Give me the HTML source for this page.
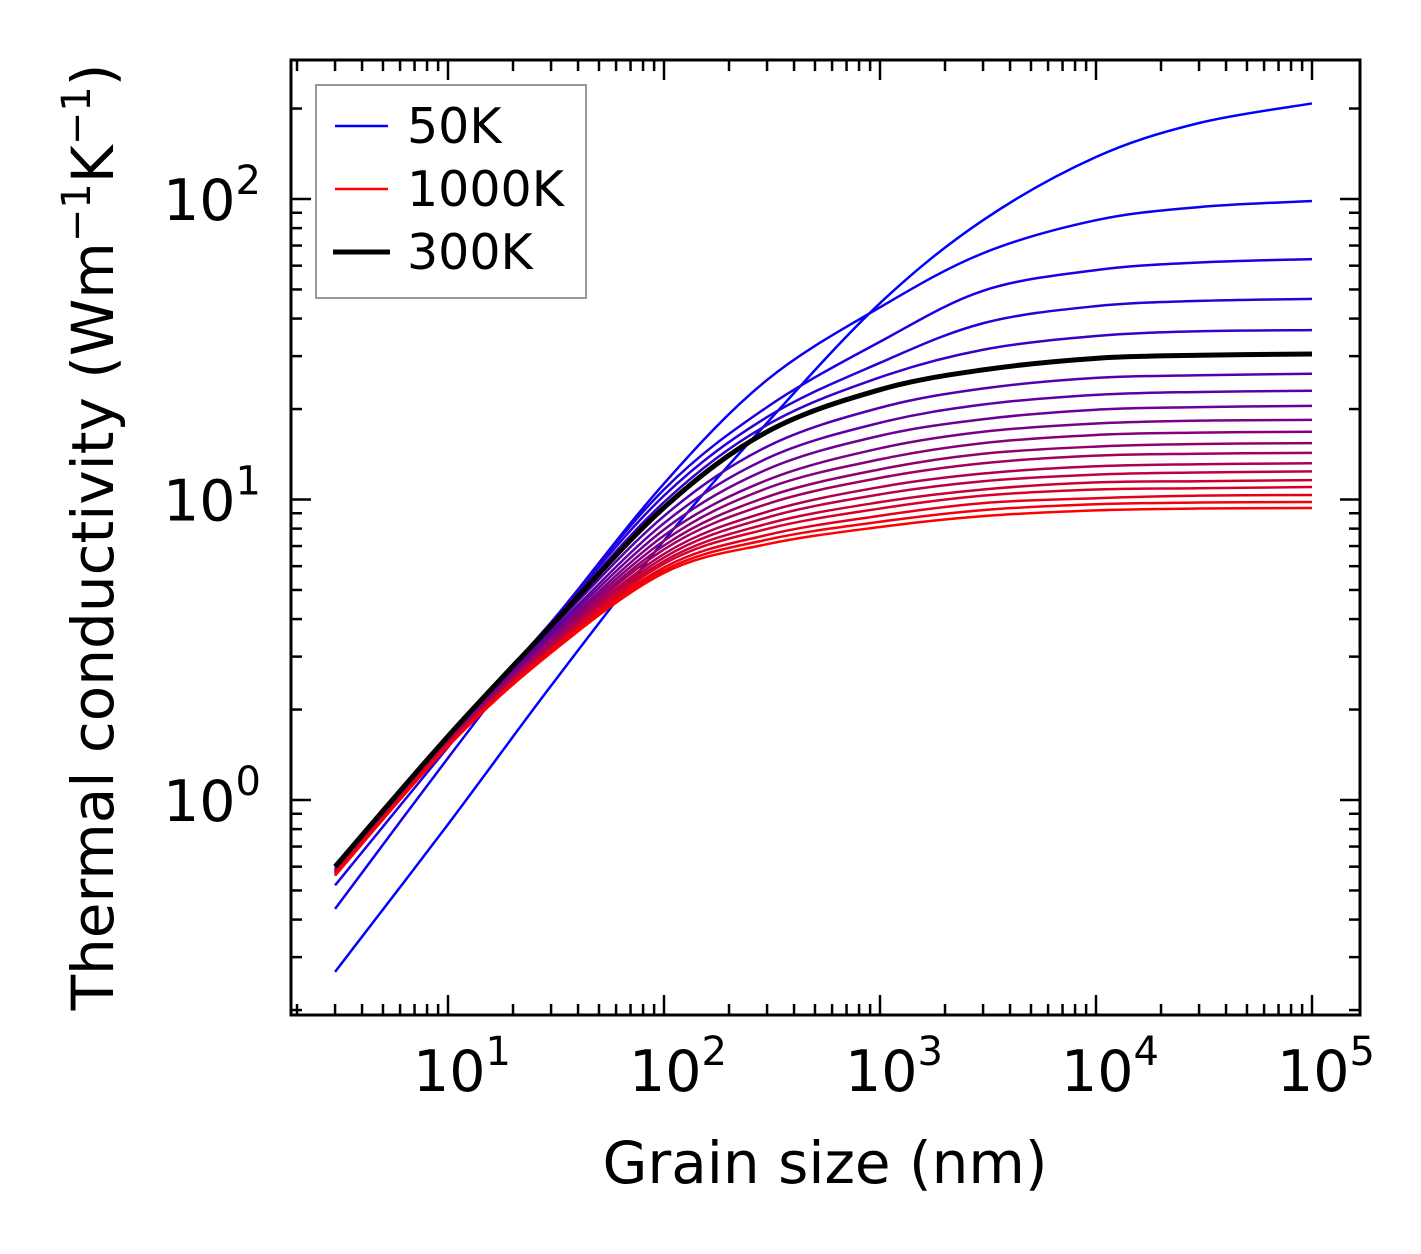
<!DOCTYPE html>
<html><head><meta charset="utf-8"><style>
html,body{margin:0;padding:0;background:#fff;}
svg{display:block;font-family:"DejaVu Sans","Liberation Sans",sans-serif;}
</style></head><body>
<svg id="chart" width="1421" height="1254" viewBox="0 0 1421 1254" xmlns="http://www.w3.org/2000/svg">
<rect x="0" y="0" width="1421" height="1254" fill="#fff"/>
<g id="curves"></g>
<g id="ticks"></g>
<rect x="291" y="60" width="1069" height="955" fill="none" stroke="#000" stroke-width="3"/>
<g id="labels"></g>
<text x="825" y="1183" font-size="58" text-anchor="middle">Grain size (nm)</text>
<text transform="translate(113,537) rotate(-90)" font-size="58" text-anchor="middle">Thermal conductivity (Wm<tspan dy="-23" font-size="40">−1</tspan><tspan dy="23">K</tspan><tspan dy="-23" font-size="40">−1</tspan><tspan dy="23">)</tspan></text>
<g>
<rect x="316" y="85" width="270" height="213" fill="#fff" stroke="#999" stroke-width="2"/>
<line x1="335" y1="126" x2="388" y2="126" stroke="#0000ff" stroke-width="2.4"/>
<text x="407" y="143" font-size="49">50K</text>
<line x1="335" y1="189" x2="388" y2="189" stroke="#ff0000" stroke-width="2.4"/>
<text x="407" y="206" font-size="49">1000K</text>
<line x1="333" y1="252" x2="390" y2="252" stroke="#000" stroke-width="5"/>
<text x="407" y="269" font-size="49">300K</text>
</g>
</svg>
<script>
const grainSizes = [3, 10, 30, 100, 300, 1000, 3000, 10000, 30000, 100000];
const temperatures = [50,100,150,200,250,300,350,400,450,500,550,600,650,700,750,800,850,900,950,1000];
const k50  = [0.268,0.83,2.4,7.3,18.0,45,85,138,179,208];
const k100 = [0.434,1.38,3.85,11.3,25,43.6,66,85,94,98.5];
const k150 = [0.52,1.5,3.9,10.8,20.3,33.5,49.5,58,61.5,63.1];
const k200 = [0.575,1.58,3.9,10.3,18.8,28.5,38.6,44,45.8,46.5];
const k250 = [0.585,1.6,3.85,9.8,17.7,25.5,31.5,35,36.3,36.6];
const k300 = [0.60,1.63,3.8,9.4,16.8,23.2,27.0,29.5,30.2,30.5];
const k350 = [0.594,1.61,3.70,8.81,15.0,20.2,23.4,25.4,25.9,26.2];
const k400 = [0.590,1.60,3.61,8.34,13.7,18.0,20.7,22.3,22.8,23.0];
const k450 = [0.586,1.59,3.55,7.94,12.6,16.3,18.5,19.9,20.3,20.5];
const k500 = [0.582,1.58,3.48,7.59,11.6,14.8,16.8,17.9,18.3,18.4];
const k550 = [0.579,1.57,3.43,7.29,10.9,13.6,15.4,16.4,16.7,16.8];
const k600 = [0.577,1.56,3.37,7.03,10.2,12.6,14.2,15.0,15.3,15.4];
const k650 = [0.574,1.55,3.33,6.82,9.66,11.8,13.2,14.0,14.2,14.3];
const k700 = [0.571,1.55,3.28,6.59,9.10,11.0,12.2,12.9,13.1,13.2];
const k750 = [0.569,1.54,3.24,6.41,8.71,10.4,11.5,12.1,12.3,12.4];
const k800 = [0.566,1.53,3.21,6.24,8.30,9.80,10.8,11.4,11.5,11.6];
const k850 = [0.565,1.52,3.18,6.11,7.98,9.33,10.3,10.8,10.9,11.0];
const k900 = [0.564,1.52,3.15,5.94,7.62,8.83,9.73,10.1,10.3,10.35];
const k950 = [0.561,1.51,3.12,5.81,7.35,8.43,9.22,9.64,9.77,9.81];
const k1000= [0.56,1.51,3.09,5.7,7.1,8.1,8.8,9.2,9.33,9.37];
const xTickLabels = ["1","2","3","4","5"];
const yTickLabels = ["0","1","2"];
const series = [k50,k100,k150,k200,k250,k300,k350,k400,k450,k500,k550,k600,k650,k700,k750,k800,k850,k900,k950,k1000];

const NS = "http://www.w3.org/2000/svg";
function xs(v){ return 448 + (Math.log10(v) - 1) * 216; }
function ys(v){ return 800 - Math.log10(v) * 300.5; }

const curves = document.getElementById('curves');
function pathFor(arr){
  const pts = arr.map((v,i)=>[xs(grainSizes[i]), ys(v)]);
  let d = "M" + pts[0][0].toFixed(2) + "," + pts[0][1].toFixed(2);
  for(let i=0;i<pts.length-1;i++){
    const p0 = pts[i-1]||pts[i], p1 = pts[i], p2 = pts[i+1], p3 = pts[i+2]||pts[i+1];
    const c1 = [p1[0]+(p2[0]-p0[0])/6, p1[1]+(p2[1]-p0[1])/6];
    const c2 = [p2[0]-(p3[0]-p1[0])/6, p2[1]-(p3[1]-p1[1])/6];
    d += "C"+c1[0].toFixed(2)+","+c1[1].toFixed(2)+" "+c2[0].toFixed(2)+","+c2[1].toFixed(2)+" "+p2[0].toFixed(2)+","+p2[1].toFixed(2);
  }
  return d;
}
let blackPath = null;
series.forEach((arr, i) => {
  const p = document.createElementNS(NS, 'path');
  p.setAttribute('d', pathFor(arr));
  p.setAttribute('fill', 'none');
  p.setAttribute('stroke-linejoin', 'round');
  const T = temperatures[i];
  if (T === 300) {
    p.setAttribute('stroke', '#000');
    p.setAttribute('stroke-width', '5');
    blackPath = p;
  } else {
    const f = i / (series.length - 1);
    p.setAttribute('stroke', 'rgb(' + Math.round(255*f) + ',0,' + Math.round(255*(1-f)) + ')');
    p.setAttribute('stroke-width', '2.5');
  }
  
  
  curves.appendChild(p);
});
if (blackPath) curves.appendChild(blackPath);

const ticks = document.getElementById('ticks');
function line(x1,y1,x2,y2,w,name){
  const l = document.createElementNS(NS,'line');
  l.setAttribute('x1',x1); l.setAttribute('y1',y1); l.setAttribute('x2',x2); l.setAttribute('y2',y2);
  l.setAttribute('stroke','#000'); l.setAttribute('stroke-width',w);
  
  
  ticks.appendChild(l);
}
for (let e = 0; e <= 5; e++) {
  for (let m = 1; m <= 9; m++) {
    const v = m * Math.pow(10, e);
    const x = xs(v);
    if (x < 292 || x > 1359) continue;
    const len = m === 1 ? 20 : 11;
    line(x, 1015, x, 1015 - len, 2.5, 'x-tick');
    line(x, 60, x, 60 + len, 2.5, 'x-tick-top');
  }
}
for (let e = -1; e <= 2; e++) {
  for (let m = 1; m <= 9; m++) {
    const v = m * Math.pow(10, e);
    const y = ys(v);
    if (y < 61 || y > 1014) continue;
    const len = m === 1 ? 20 : 11;
    line(291, y, 291 + len, y, 2.5, 'y-tick');
    line(1360, y, 1360 - len, y, 2.5, 'y-tick-right');
  }
}
const labels = document.getElementById('labels');
xTickLabels.forEach((s) => {
  const x = xs(Math.pow(10, +s));
  const t = document.createElementNS(NS,'text');
  t.setAttribute('x', x + 14); t.setAttribute('y', 1091);
  t.setAttribute('font-size', '57'); t.setAttribute('text-anchor', 'middle');
  t.innerHTML = '10<tspan dy="-26" font-size="40">' + s + '</tspan>';
  
  
  labels.appendChild(t);
});
yTickLabels.forEach((s) => {
  const y = ys(Math.pow(10, +s));
  const t = document.createElementNS(NS,'text');
  t.setAttribute('x', 261); t.setAttribute('y', y + 21);
  t.setAttribute('font-size', '57'); t.setAttribute('text-anchor', 'end');
  t.innerHTML = '10<tspan dy="-26" font-size="40">' + s + '</tspan>';
  
  
  labels.appendChild(t);
});
</script>
</body></html>
